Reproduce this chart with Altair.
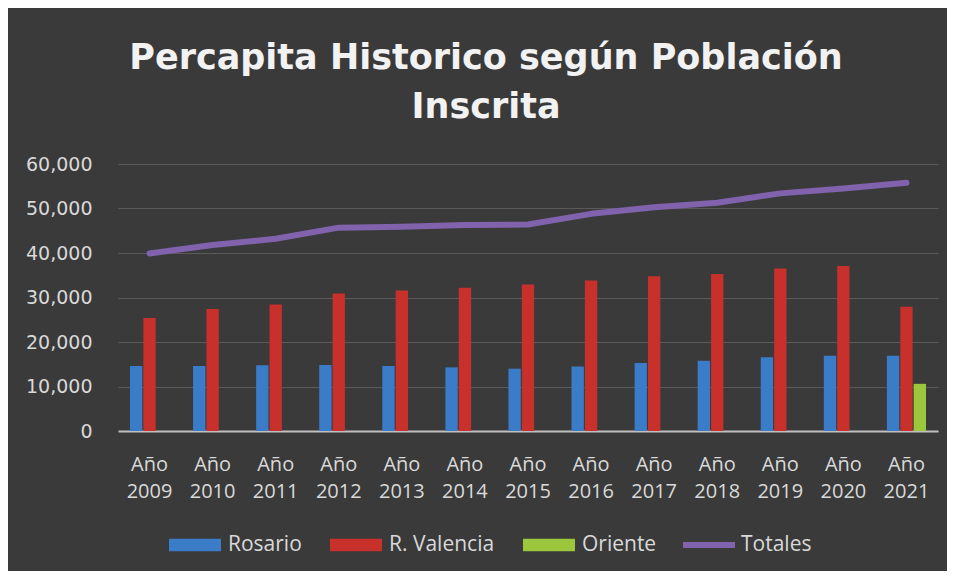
import altair as alt
import pandas as pd

years = ["2009", "2010", "2011", "2012", "2013", "2014", "2015", "2016", "2017", "2018", "2019", "2020", "2021"]
rosario = [14600, 14600, 14800, 14850, 14600, 14300, 14000, 14500, 15300, 15800, 16600, 16900, 16900]
valencia = [25400, 27400, 28400, 30900, 31600, 32200, 32900, 33800, 34800, 35300, 36500, 37100, 27900]
oriente = [None, None, None, None, None, None, None, None, None, None, None, None, 10600]
totales = [39900, 41800, 43200, 45700, 45900, 46300, 46400, 48800, 50300, 51300, 53400, 54500, 55800]

bar_series = ["Rosario", "R. Valencia", "Oriente"]
bar_colors = ["#3a7cc8", "#c8302c", "#9cc63c"]
line_color = "#8062ad"

rows = []
for i, y in enumerate(years):
    for name, vals in zip(bar_series, [rosario, valencia, oriente]):
        if vals[i] is not None:
            rows.append({"year": y, "serie": name, "valor": vals[i]})
bars_df = pd.DataFrame(rows)
line_df = pd.DataFrame({"year": years, "valor": totales, "serie": ["Totales"] * len(years)})

text_color = "#d9d9d9"
font = "Open Sans"

x_enc = alt.X(
    "year:N",
    sort=years,
    scale=alt.Scale(paddingInner=0.38, paddingOuter=0.19),
    axis=alt.Axis(
        title=None,
        labelAngle=0,
        labelExpr="['Año', datum.value]",
        labelFont=font,
        labelFontSize=20,
        labelColor=text_color,
        labelLineHeight=27,
        labelPadding=23,
        ticks=False,
        domainColor="#bfbfbf",
        domainWidth=2,
        grid=False,
    ),
)
y_enc = alt.Y(
    "valor:Q",
    scale=alt.Scale(domain=[0, 60000]),
    axis=alt.Axis(
        title=None,
        values=[0, 10000, 20000, 30000, 40000, 50000, 60000],
        format=",d",
        labelFont="DejaVu Sans",
        labelFontSize=19,
        labelColor=text_color,
        labelPadding=26,
        ticks=False,
        domain=False,
        grid=True,
        gridColor="#5a5a5a",
        gridWidth=1,
    ),
)

bars = alt.Chart(bars_df).mark_bar().encode(
    x=x_enc,
    y=y_enc,
    xOffset=alt.XOffset("serie:N", scale=alt.Scale(domain=bar_series, paddingInner=0.08)),
    color=alt.Color(
        "serie:N",
        scale=alt.Scale(domain=bar_series, range=bar_colors),
        legend=alt.Legend(
            title=None,
            orient="none",
            legendX=50,
            legendY=354,
            direction="horizontal",
            symbolType="M-1,-0.24H1V0.24H-1Z",
            symbolSize=2704,
            symbolOpacity=1,
            labelFont=font,
            labelFontSize=21,
            labelColor=text_color,
            labelOffset=6,
            columnPadding=27,
        ),
    ),
)

line = alt.Chart(line_df).mark_line(strokeWidth=6, strokeCap="round", strokeJoin="round").encode(
    x=alt.X("year:N", sort=years),
    y=alt.Y("valor:Q"),
    stroke=alt.Stroke(
        "serie:N",
        scale=alt.Scale(domain=["Totales"], range=[line_color]),
        legend=alt.Legend(
            title=None,
            orient="none",
            legendX=562,
            legendY=352,
            symbolType="stroke",
            symbolSize=2704,
            symbolStrokeWidth=6,
            labelFont=font,
            labelFontSize=21,
            labelColor=text_color,
            labelOffset=3,
        ),
    ),
)

chart = (
    alt.layer(bars, line)
    .resolve_scale(color="independent")
    .properties(
        width=820,
        height=267,
        autosize=alt.AutoSizeParams(type="none"),
        padding={"left": 110, "top": 156, "right": 9, "bottom": 140},
        background="#3a3a3a",
        title=alt.TitleParams(
            text=["Percapita Historico según Población", "Inscrita"],
            font="DejaVu Sans",
            fontSize=35,
            fontWeight="bold",
            color="#f2f2f2",
            lineHeight=49,
            anchor="middle",
            frame="group",
            dx=-42,
            offset=30,
        ),
    )
    .configure_view(stroke=None)
)

chart.save("out.html", embed_options={"renderer": "svg", "actions": False})
